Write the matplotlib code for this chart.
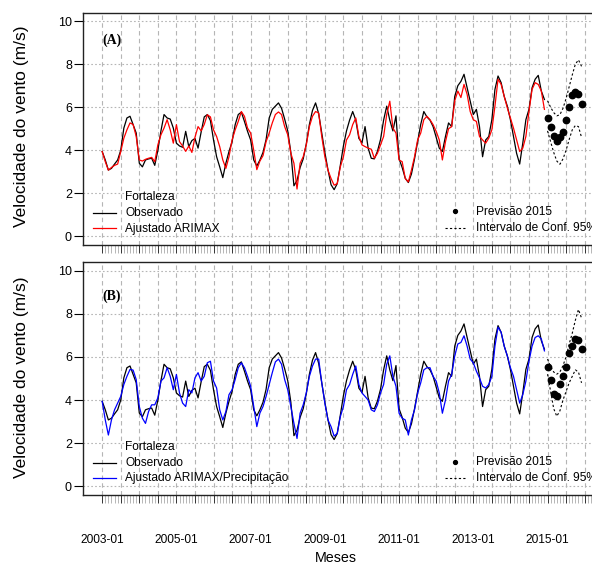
import numpy as np
import matplotlib
matplotlib.use("Agg")
import matplotlib.pyplot as plt
from matplotlib.lines import Line2D

# ---------------- data ----------------
start_year = 2003
n_obs = 144          # 2003-01 .. 2014-12
n_fc = 12            # 2015-01 .. 2015-12

observado = [
    3.94, 3.55, 3.08, 3.16, 3.36, 3.55, 4.00, 5.03, 5.50, 5.58, 5.19, 4.80,   # 2003
    3.40, 3.23, 3.55, 3.60, 3.63, 3.30, 4.00, 4.90, 5.66, 5.50, 5.45, 5.03,   # 2004
    4.33, 4.20, 4.14, 4.88, 4.17, 4.45, 4.55, 4.10, 4.85, 5.55, 5.66, 5.38,   # 2005
    4.48, 3.70, 3.23, 2.73, 3.40, 3.94, 4.40, 5.19, 5.66, 5.77, 5.34, 4.88,   # 2006
    4.48, 3.55, 3.27, 3.55, 3.90, 4.50, 5.50, 5.90, 6.05, 6.20, 5.95, 5.45,   # 2007
    4.90, 3.90, 2.35, 2.60, 3.20, 3.60, 4.30, 5.20, 5.85, 6.20, 5.70, 4.80,   # 2008
    3.90, 3.10, 2.40, 2.17, 2.45, 3.30, 4.20, 4.90, 5.40, 5.80, 5.40, 4.55,   # 2009
    4.35, 5.10, 4.10, 3.63, 3.60, 3.95, 4.50, 5.40, 6.05, 5.40, 4.90, 5.60,   # 2010
    3.60, 3.20, 2.70, 2.50, 2.90, 3.60, 4.40, 5.20, 5.80, 5.55, 5.40, 5.10,   # 2011
    4.60, 4.10, 3.94, 4.64, 5.27, 5.10, 6.50, 7.00, 7.20, 7.53, 6.90, 6.28,   # 2012
    5.66, 5.90, 5.10, 3.70, 4.48, 4.64, 5.42, 6.83, 7.45, 7.14, 6.50, 6.05,   # 2013
    5.42, 4.64, 3.86, 3.36, 4.33, 5.42, 5.90, 6.90, 7.30, 7.48, 6.75, 6.36,   # 2014
]

ajustado_arimax = [
    3.94, 3.47, 3.08, 3.20, 3.30, 3.36, 3.94, 4.56, 4.95, 5.27, 5.20, 4.64,   # 2003
    3.55, 3.50, 3.58, 3.63, 3.67, 3.47, 4.25, 4.72, 5.03, 5.42, 4.95, 4.33,   # 2004
    5.19, 4.40, 4.20, 3.95, 4.20, 3.90, 4.60, 5.10, 4.90, 5.20, 5.65, 5.55,   # 2005
    4.95, 4.64, 4.17, 3.55, 3.16, 3.70, 4.48, 4.95, 5.34, 5.80, 5.58, 5.03,   # 2006
    4.80, 4.00, 3.10, 3.50, 3.75, 4.40, 4.80, 5.27, 5.66, 5.78, 5.66, 5.10,   # 2007
    4.72, 3.86, 3.40, 2.20, 3.40, 3.70, 4.25, 5.10, 5.58, 5.80, 5.73, 4.64,   # 2008
    3.70, 3.08, 2.69, 2.38, 2.45, 3.23, 3.70, 4.48, 4.72, 5.19, 5.50, 4.64,   # 2009
    4.25, 4.17, 4.10, 4.05, 3.63, 3.86, 4.25, 4.64, 5.66, 6.28, 5.03, 4.80,   # 2010
    3.55, 3.47, 2.69, 2.53, 3.08, 3.70, 4.48, 4.80, 5.42, 5.58, 5.42, 5.19,   # 2011
    4.88, 4.48, 3.55, 4.40, 5.00, 5.10, 6.30, 6.75, 6.45, 7.06, 6.60, 5.80,   # 2012
    5.42, 5.34, 4.64, 4.48, 4.33, 4.56, 4.95, 6.05, 7.30, 7.06, 6.50, 5.97,   # 2013
    5.50, 5.03, 4.48, 3.94, 4.10, 4.64, 5.80, 6.83, 7.14, 7.06, 6.75, 5.90,   # 2014
]

ajustado_arimax_prec = [
    3.94, 3.08, 2.38, 3.08, 3.55, 3.86, 4.17, 4.72, 5.10, 5.42, 5.39, 4.95,   # 2003
    3.70, 3.16, 2.92, 3.47, 3.78, 3.78, 4.10, 4.88, 5.03, 5.50, 5.10, 4.48,   # 2004
    5.19, 4.33, 3.86, 3.70, 4.48, 4.33, 5.03, 5.27, 4.88, 5.10, 5.73, 5.80,   # 2005
    4.88, 4.56, 3.55, 3.08, 3.47, 4.25, 4.48, 4.95, 5.50, 5.73, 5.50, 5.10,   # 2006
    4.64, 3.70, 2.77, 3.40, 3.70, 4.17, 4.72, 5.27, 5.77, 5.90, 5.66, 4.95,   # 2007
    4.48, 3.70, 2.92, 2.22, 3.39, 3.78, 4.33, 5.10, 5.58, 5.90, 5.90, 4.80,   # 2008
    3.86, 3.08, 2.77, 2.33, 2.45, 3.23, 3.70, 4.48, 4.72, 5.19, 5.58, 4.72,   # 2009
    4.33, 4.17, 4.00, 3.55, 3.47, 3.78, 4.33, 4.72, 5.66, 6.05, 5.10, 4.64,   # 2010
    3.39, 3.16, 3.08, 2.38, 3.08, 3.55, 4.33, 4.80, 5.40, 5.50, 5.50, 5.10,   # 2011
    4.88, 4.33, 3.39, 4.00, 4.88, 5.19, 6.05, 6.60, 6.67, 6.98, 6.50, 5.90,   # 2012
    5.73, 5.34, 5.03, 4.64, 4.56, 4.72, 5.10, 6.50, 7.38, 7.14, 6.50, 6.05,   # 2013
    5.50, 5.10, 4.48, 3.86, 4.25, 4.88, 5.80, 6.50, 6.90, 6.98, 6.83, 6.28,   # 2014
]

previsao_a = [5.50, 5.06, 4.66, 4.44, 4.60, 4.83, 5.39, 6.00, 6.55, 6.73, 6.60, 6.16]
sup_a      = [6.30, 6.00, 5.75, 5.60, 5.65, 5.95, 6.40, 6.95, 7.50, 8.00, 8.20, 7.90]
inf_a      = [4.90, 4.40, 3.90, 3.50, 3.35, 3.60, 4.00, 4.50, 4.95, 5.15, 5.10, 4.60]

previsao_b = [5.55, 4.95, 4.30, 4.20, 4.76, 5.10, 5.55, 6.17, 6.50, 6.85, 6.80, 6.37]
sup_b      = [5.90, 5.55, 5.30, 5.20, 5.30, 5.60, 6.00, 6.60, 7.10, 7.70, 8.20, 7.80]
inf_b      = [5.20, 4.40, 3.60, 3.25, 3.50, 4.00, 4.40, 4.80, 5.10, 5.40, 5.30, 4.80]

label_years = [2003, 2005, 2007, 2009, 2011, 2013, 2015]
yticks = [0, 2, 4, 6, 8, 10]

# ---------------- figure ----------------
W, H = 592, 573
fig = plt.figure(figsize=(W / 100, H / 100), dpi=100)
plt.rcParams['font.family'] = ['Liberation Sans', 'DejaVu Sans']

t_obs = start_year + np.arange(n_obs) / 12.0
t_fc = start_year + (n_obs + np.arange(n_fc)) / 12.0

def fx(px):
    return px / W

def fy(py):
    return 1 - py / H

ax_left = fx(83)
ax_w = (600.7 - 83) / W
ax1 = fig.add_axes([ax_left, fy(245), ax_w, (245 - 12.5) / H])
ax2 = fig.add_axes([ax_left, fy(495), ax_w, (495 - 262) / H])

grid_col = '#b5b5b5'
major_x = start_year + np.arange(0, 27) / 2.0
minor_x = start_year + np.arange(0, 12 * 13 + 6) / 12.0

panels = [
    (ax1, ajustado_arimax, 'red', previsao_a, sup_a, inf_a),
    (ax2, ajustado_arimax_prec, 'blue', previsao_b, sup_b, inf_b),
]
for ax, fit, col, fc, hi, lo in panels:
    ax.set_xlim(2002.483, 2016.433)
    ax.set_ylim(-0.4, 10.4)
    for x in major_x:
        ax.axvline(x, color=grid_col, lw=0.8, ls=(0, (4, 3)), zorder=0)
    for y in yticks:
        ax.axhline(y, color=grid_col, lw=0.8, ls=(0, (1.5, 2)), zorder=0)
    ax.plot(t_obs, observado, color='black', lw=0.9, zorder=3)
    ax.plot(t_obs, fit, color=col, lw=0.9, zorder=4)
    ax.plot(t_fc, fc, 'o', color='black', ms=4.6, zorder=5)
    ax.plot(t_fc, hi, color='black', lw=0.8, ls=(0, (2, 2)), zorder=4)
    ax.plot(t_fc, lo, color='black', lw=0.8, ls=(0, (2, 2)), zorder=4)

    ax.set_yticks(yticks)
    ax.set_yticklabels([str(v) for v in yticks], fontsize=9)
    ax.tick_params(axis='y', direction='out', length=6.5, width=0.8, pad=1.5)
    ax.set_xticks(major_x)
    ax.set_xticks(minor_x, minor=True)
    ax.tick_params(axis='x', which='major', direction='out', length=6, width=0.7,
                   color='#333333')
    ax.tick_params(axis='x', which='minor', direction='out', length=6, width=0.5,
                   color='#9a9a9a')
    for s in ax.spines.values():
        s.set_linewidth(1.0)
        s.set_color('#222222')

labels2 = []
for x in major_x:
    yr = int(round(x)) if abs(x - round(x)) < 1e-6 else None
    labels2.append(f"{yr}-01" if yr in label_years else "")
ax1.set_xticklabels([''] * len(major_x))
ax2.set_xticklabels(labels2, fontsize=8.6)
ax2.tick_params(axis='x', which='major', pad=22)

# axis labels
for yc in (126.5, 377):
    fig.text(fx(22), fy(yc), 'Velocidade do vento (m/s)', rotation=90,
             ha='center', va='center', fontsize=12.5)
fig.text(fx(336), fy(558), 'Meses', ha='center', va='center', fontsize=10.3)

# panel labels
fig.text(fx(102.5), fy(40.5), '(A)', ha='left', va='center', fontsize=10,
         fontweight='bold', family='Liberation Serif')
fig.text(fx(102.5), fy(296.5), '(B)', ha='left', va='center', fontsize=10,
         fontweight='bold', family='Liberation Serif')

# legends
leg_fs = 8.6
for off, fitlab, col in ((0, 'Ajustado ARIMAX', 'red'),
                         (250, 'Ajustado ARIMAX/Precipitação', 'blue')):
    fig.text(fx(125), fy(197.5 + off), 'Fortaleza', ha='left', va='center', fontsize=leg_fs)
    fig.text(fx(125), fy(212.5 + off), 'Observado', ha='left', va='center', fontsize=leg_fs)
    fig.text(fx(125), fy(228.5 + off), fitlab, ha='left', va='center', fontsize=leg_fs)
    fig.add_artist(Line2D([fx(93), fx(116)], [fy(212.5 + off), fy(212.5 + off)],
                          color='black', lw=0.9, transform=fig.transFigure))
    fig.add_artist(Line2D([fx(93), fx(116)], [fy(228 + off), fy(228 + off)],
                          color=col, lw=0.9, transform=fig.transFigure))
    fig.add_artist(Line2D([fx(455)], [fy(211.5 + off)], marker='o', ms=2.8,
                          color='black', ls='none', transform=fig.transFigure))
    fig.add_artist(Line2D([fx(445), fx(465)], [fy(228 + off), fy(228 + off)],
                          color='black', lw=0.8, ls=(0, (2, 2)), transform=fig.transFigure))
    fig.text(fx(476), fy(212 + off), 'Previsão 2015', ha='left', va='center', fontsize=leg_fs)
    fig.text(fx(476), fy(228 + off), 'Intervalo de Conf. 95%', ha='left', va='center',
             fontsize=leg_fs)

fig.savefig('out.png', dpi=100)
